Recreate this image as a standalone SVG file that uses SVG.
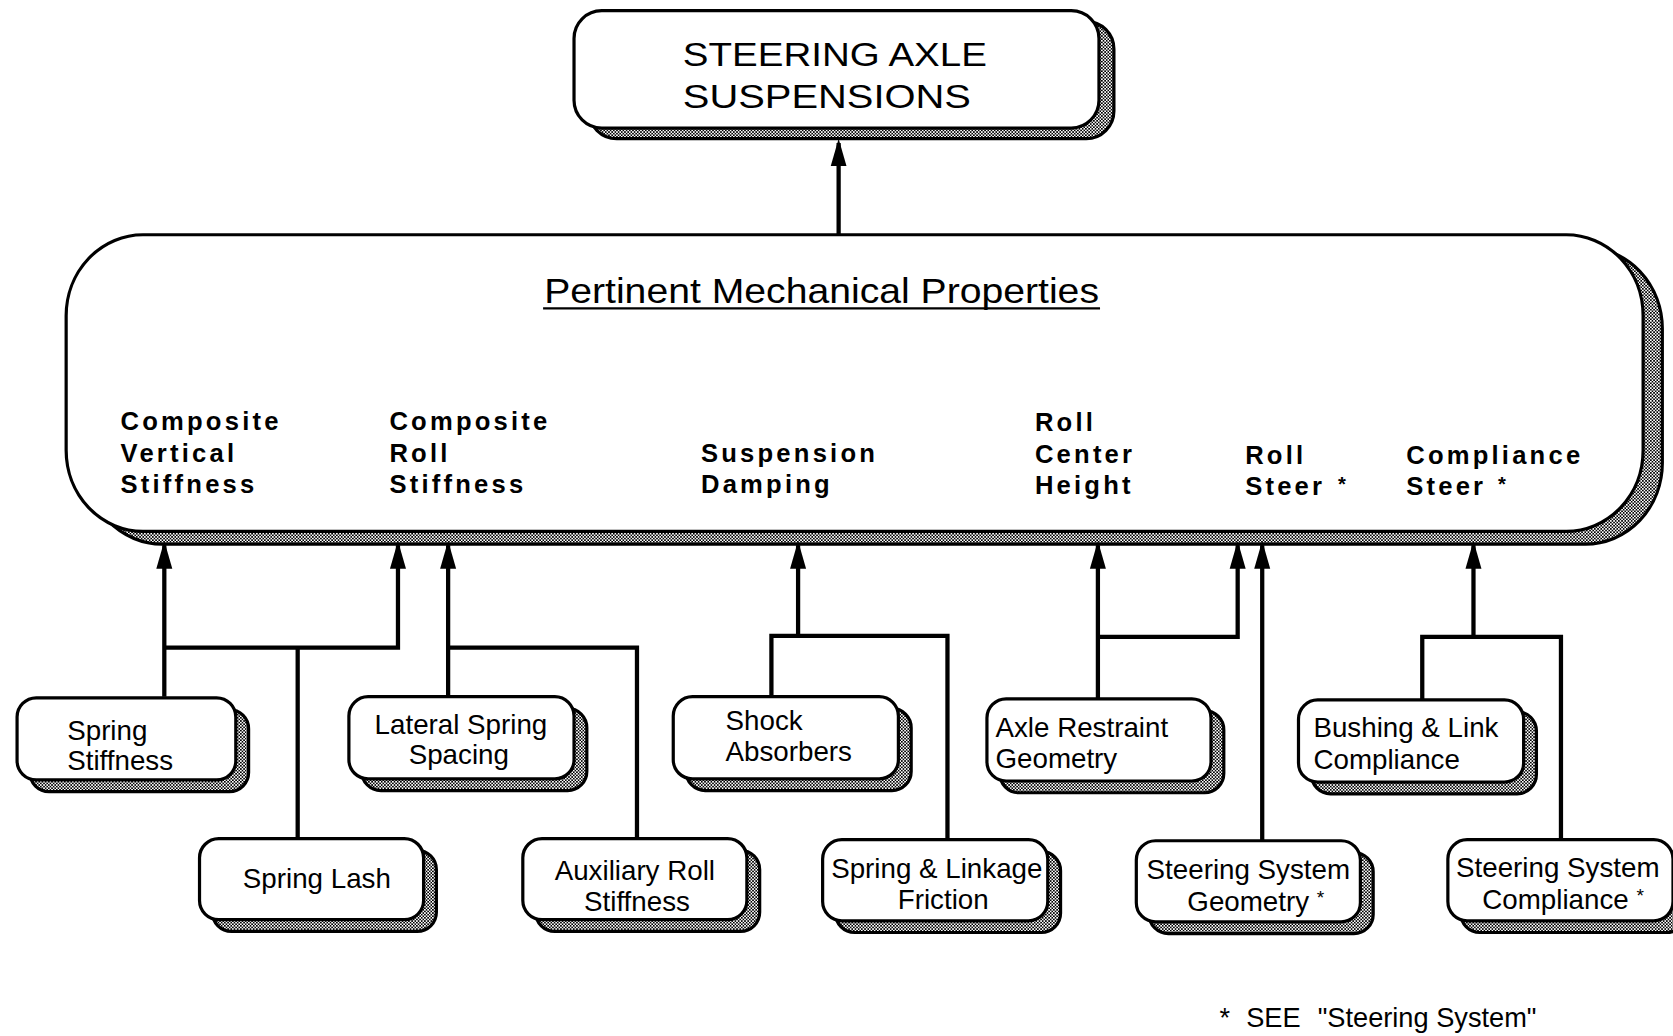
<svg xmlns="http://www.w3.org/2000/svg" width="1673" height="1036" viewBox="0 0 1673 1036">
<defs>
<pattern id="hatch" width="3" height="3" patternUnits="userSpaceOnUse"><rect width="3" height="3" fill="#fff"/><rect width="1.5" height="1.5" fill="#000"/><rect x="1.5" y="1.5" width="1.5" height="1.5" fill="#000"/></pattern>
<marker id="arr" markerUnits="userSpaceOnUse" markerWidth="26" markerHeight="18" viewBox="0 0 26 18" refX="22" refY="9" orient="auto"><path d="M0,1.5 L26,9 L0,16.5 Z" fill="#000"/></marker>
<style>
.box{fill:#fff;stroke:#000;stroke-width:3}
.shd{fill:url(#hatch);stroke:#000;stroke-width:3}
.conn{fill:none;stroke:#000;stroke-width:4}
.t{font-family:"Liberation Sans",Arial,Helvetica,sans-serif;font-size:26px;fill:#000}
.c{text-anchor:middle}
.b{font-family:"Liberation Sans",Arial,Helvetica,sans-serif;font-weight:bold;font-size:24px;letter-spacing:3px;fill:#000}
.big{font-family:"Liberation Sans",Arial,Helvetica,sans-serif;font-size:32px;fill:#000}
.sup{font-size:18px}
</style>
</defs>
<rect width="1673" height="1036" fill="#fff"/>
<g transform="scale(1.06696)">

<g id="top">
<rect class="shd" x="552" y="20" width="492" height="110" rx="26"/>
<rect class="box" x="538" y="10" width="492" height="110" rx="26"/>
<text class="big" x="640" y="62" textLength="285" lengthAdjust="spacingAndGlyphs">STEERING AXLE</text>
<text class="big" x="640" y="101" textLength="270" lengthAdjust="spacingAndGlyphs">SUSPENSIONS</text>
</g>

<g id="properties">
<rect class="shd" x="80" y="232" width="1478" height="278" rx="72" ry="76"/>
<rect class="box" x="62" y="220" width="1478" height="278" rx="72" ry="76"/>
<text class="big" x="510" y="284" style="font-size:33px" textLength="520" lengthAdjust="spacingAndGlyphs">Pertinent Mechanical Properties</text>
<line x1="509" y1="289" x2="1031" y2="289" stroke="#000" stroke-width="2"/>
<text class="b"><tspan x="113" y="403">Composite</tspan><tspan x="113" y="433">Vertical</tspan><tspan x="113" y="462">Stiffness</tspan></text>
<text class="b"><tspan x="365" y="403">Composite</tspan><tspan x="365" y="433">Roll</tspan><tspan x="365" y="462">Stiffness</tspan></text>
<text class="b"><tspan x="657" y="433">Suspension</tspan><tspan x="657" y="462">Damping</tspan></text>
<text class="b"><tspan x="970" y="404">Roll</tspan><tspan x="970" y="434">Center</tspan><tspan x="970" y="463">Height</tspan></text>
<text class="b"><tspan x="1167" y="435">Roll</tspan><tspan x="1167" y="464">Steer</tspan><tspan x="1254" y="460" style="font-size:19px">*</tspan></text>
<text class="b"><tspan x="1318" y="435">Compliance</tspan><tspan x="1318" y="464">Steer</tspan><tspan x="1404" y="460" style="font-size:19px">*</tspan></text>
</g>

<g id="connectors">
<path class="conn" d="M786,220 V134" marker-end="url(#arr)"/>
<path class="conn" d="M154,653 V511" marker-end="url(#arr)"/>
<path class="conn" d="M154,607 H373 V511" marker-end="url(#arr)"/>
<path class="conn" d="M279,786 V607"/>
<path class="conn" d="M420,653 V511" marker-end="url(#arr)"/>
<path class="conn" d="M420,607 H597 V786"/>
<path class="conn" d="M723,653 V596 H888 V787"/>
<path class="conn" d="M748,596 V511" marker-end="url(#arr)"/>
<path class="conn" d="M1029,655 V511" marker-end="url(#arr)"/>
<path class="conn" d="M1029,597 H1160 V511" marker-end="url(#arr)"/>
<path class="conn" d="M1183,788 V511" marker-end="url(#arr)"/>
<path class="conn" d="M1333,656 V597 H1463 V787"/>
<path class="conn" d="M1381,597 V511" marker-end="url(#arr)"/>
</g>

<g id="spring-stiffness">
<rect class="shd" x="28" y="665" width="205" height="77" rx="18"/>
<rect class="box" x="16" y="654" width="205" height="77" rx="18"/>
<text class="t"><tspan x="63" y="694">Spring</tspan><tspan x="63" y="722">Stiffness</tspan></text>
</g>
<g id="lateral-spring-spacing">
<rect class="shd" x="339" y="664" width="211" height="77" rx="18"/>
<rect class="box" x="327" y="653" width="211" height="77" rx="18"/>
<text class="t c"><tspan x="432" y="688">Lateral Spring</tspan><tspan x="430" y="716">Spacing</tspan></text>
</g>
<g id="shock-absorbers">
<rect class="shd" x="643" y="664" width="211" height="77" rx="18"/>
<rect class="box" x="631" y="653" width="211" height="77" rx="18"/>
<text class="t"><tspan x="680" y="684">Shock</tspan><tspan x="680" y="713">Absorbers</tspan></text>
</g>
<g id="axle-restraint-geometry">
<rect class="shd" x="937" y="666" width="210" height="77" rx="18"/>
<rect class="box" x="925" y="655" width="210" height="77" rx="18"/>
<text class="t"><tspan x="933" y="691">Axle Restraint</tspan><tspan x="933" y="720">Geometry</tspan></text>
</g>
<g id="bushing-link-compliance">
<rect class="shd" x="1229" y="667" width="211" height="77" rx="18"/>
<rect class="box" x="1217" y="656" width="211" height="77" rx="18"/>
<text class="t"><tspan x="1231" y="691">Bushing &amp; Link</tspan><tspan x="1231" y="721">Compliance</tspan></text>
</g>
<g id="spring-lash">
<rect class="shd" x="199" y="797" width="210" height="76" rx="18"/>
<rect class="box" x="187" y="786" width="210" height="76" rx="18"/>
<text class="t c" x="297" y="832">Spring Lash</text>
</g>
<g id="auxiliary-roll-stiffness">
<rect class="shd" x="502" y="797" width="210" height="76" rx="18"/>
<rect class="box" x="490" y="786" width="210" height="76" rx="18"/>
<text class="t c"><tspan x="595" y="825">Auxiliary Roll</tspan><tspan x="597" y="854">Stiffness</tspan></text>
</g>
<g id="spring-linkage-friction">
<rect class="shd" x="783" y="798" width="211" height="76" rx="18"/>
<rect class="box" x="771" y="787" width="211" height="76" rx="18"/>
<text class="t c"><tspan x="878" y="823">Spring &amp; Linkage</tspan><tspan x="884" y="852">Friction</tspan></text>
</g>
<g id="steering-system-geometry">
<rect class="shd" x="1077" y="799" width="210" height="76" rx="18"/>
<rect class="box" x="1065" y="788" width="210" height="76" rx="18"/>
<text class="t c"><tspan x="1170" y="824">Steering System</tspan><tspan x="1177" y="854">Geometry <tspan class="sup" dy="-7">*</tspan></tspan></text>
</g>
<g id="steering-system-compliance">
<rect class="shd" x="1369" y="798" width="211" height="76" rx="18"/>
<rect class="box" x="1357" y="787" width="211" height="76" rx="18"/>
<text class="t c"><tspan x="1460" y="822">Steering System</tspan><tspan x="1465" y="852">Compliance <tspan class="sup" dy="-7">*</tspan></tspan></text>
</g>

<g id="footnote">
<text class="t" style="font-size:25.5px"><tspan x="1143" y="963">*</tspan><tspan x="1168" y="963">SEE</tspan><tspan x="1235" y="963">"Steering System"</tspan></text>
</g>
</g>
</svg>
